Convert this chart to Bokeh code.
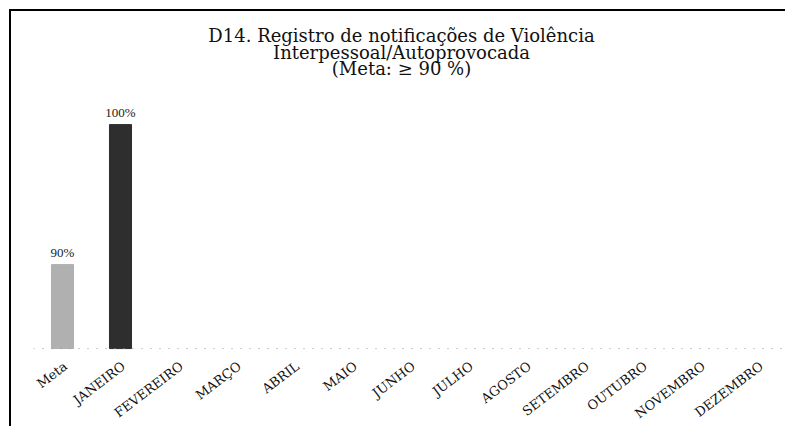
from bokeh.plotting import figure
from bokeh.models import FactorRange, Range1d, ColumnDataSource, LabelSet, Label, Span
from bokeh.embed import file_html
from bokeh.resources import INLINE

categories = ["Meta", "JANEIRO", "FEVEREIRO", "MARÇO", "ABRIL", "MAIO", "JUNHO",
              "JULHO", "AGOSTO", "SETEMBRO", "OUTUBRO", "NOVEMBRO", "DEZEMBRO"]
bar_categories = ["Meta", "JANEIRO"]
bar_values = [90, 100]
bar_labels = ["90%", "100%"]
bar_colors = ["#b0b0b0", "#2e2e2e"]

title_lines = ["D14. Registro de notificações de Violência",
               "Interpessoal/Autoprovocada",
               "(Meta: ≥ 90 %)"]
FONT = "DejaVu Serif"
BASE = 84

p = figure(x_range=FactorRange(*categories, range_padding=0),
           y_range=Range1d(78.29, 108.08),
           width=776, height=417, output_backend="svg", toolbar_location=None,
           min_border_left=22, min_border_right=0, min_border_top=0,
           min_border_bottom=0)
p.styles = {"border-left": "2px solid black", "border-top": "2px solid black",
            "margin-left": "9px", "margin-top": "9px"}
p.xaxis.visible = False
p.yaxis.visible = False
p.xgrid.visible = False
p.ygrid.visible = False
p.outline_line_color = None

# title lines
title_y = [393, 376, 360]
for line, ty in zip(title_lines, title_y):
    p.add_layout(Label(x=368, y=ty, x_units="screen", y_units="screen", text=line,
                       text_align="center", text_baseline="middle",
                       text_font=FONT, text_font_size="18px", text_color="#111111"))

# baseline dotted
p.add_layout(Span(location=BASE, dimension="width", line_color="#999999",
                  line_dash="1 8", line_width=1))

src = ColumnDataSource(dict(x=bar_categories, top=bar_values, lab=bar_labels, color=bar_colors))
p.vbar(x="x", top="top", bottom=BASE, width=0.38, color="color", source=src)
p.add_layout(LabelSet(x="x", y="top", text="lab", source=src, y_offset=5,
                      text_align="center", text_baseline="bottom",
                      text_font=FONT, text_font_size="13px", text_color="#222222"))

# category labels
csrc = ColumnDataSource(dict(x=categories, y=[BASE] * len(categories), t=categories))
p.text(x="x", y="y", text="t", source=csrc, angle=0.65, text_align="right",
       text_baseline="middle", x_offset=3, y_offset=16,
       text_font={"value": FONT}, text_font_size={"value": "13px"}, text_color="#111111")

open("out.html", "w").write(file_html(p, INLINE))
